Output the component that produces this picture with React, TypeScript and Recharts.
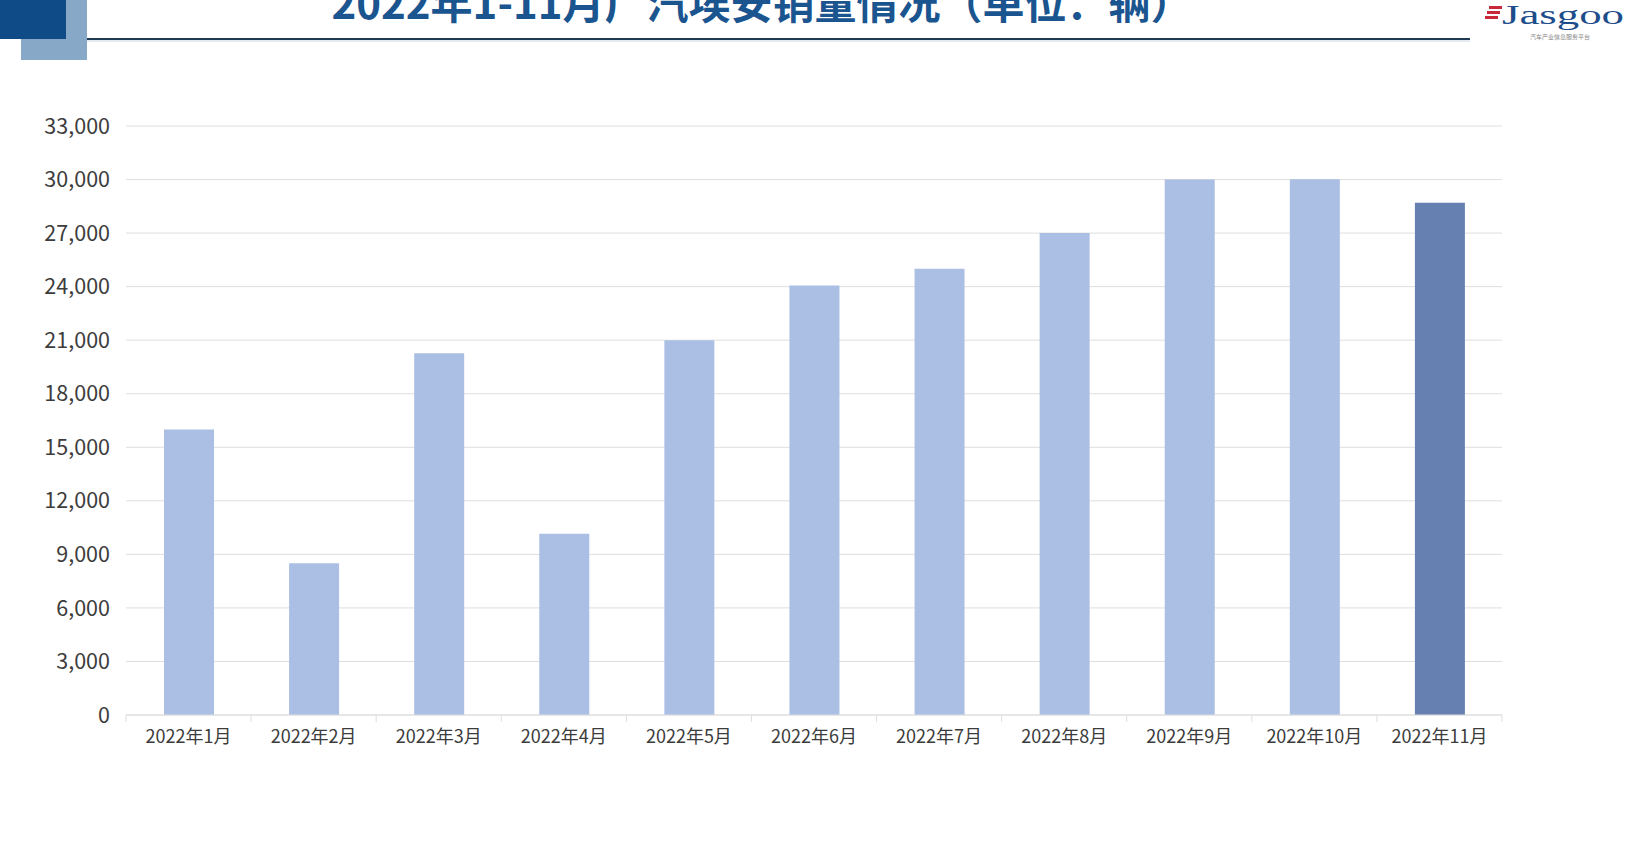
import { BarChart, Bar, XAxis, YAxis, CartesianGrid, Cell } from 'recharts';

// 2022年1-11月广汽埃安销量（辆）
const months = [
  '2022年1月', '2022年2月', '2022年3月', '2022年4月', '2022年5月', '2022年6月',
  '2022年7月', '2022年8月', '2022年9月', '2022年10月', '2022年11月',
];
const sales = [16000, 8500, 20270, 10150, 21000, 24070, 25000, 27000, 30000, 30020, 28700];
const yTicks = [0, 3000, 6000, 9000, 12000, 15000, 18000, 21000, 24000, 27000, 30000, 33000];
const highlightMonth = '2022年11月';

const FONT = '"Noto Sans CJK SC", "Noto Sans", sans-serif';
const LIGHT = '#aabfe3';
const DARK = '#6580b1';
const GRID = '#dedede';
const TEXT = '#3c3c3c';

const data = months.map((m, i) => ({ month: m, value: sales[i] }));

const MonthTick = (props: any) => {
  const { x, y, payload, index, width, visibleTicksCount } = props;
  const step = width / visibleTicksCount;
  const axisY = y - 15;
  return (
    <g>
      <line x1={x - step / 2} x2={x - step / 2} y1={axisY} y2={axisY + 7} stroke={GRID} />
      {index === visibleTicksCount - 1 && (
        <line x1={x + step / 2} x2={x + step / 2} y1={axisY} y2={axisY + 7} stroke={GRID} />
      )}
      <text x={x} y={y} dy="0.71em" textAnchor="middle" fill={TEXT} fontSize={18} fontFamily={FONT}>
        {payload.value}
      </text>
    </g>
  );
};

const Header = () => (
  <svg width={1640} height={846} style={{ position: 'absolute', left: 0, top: 0, pointerEvents: 'none' }}>
    <rect x={21} y={0} width={66} height={60} fill="#88a8c8" />
    <rect x={0} y={0} width={66} height={39} fill="#0f4c87" />
    <line x1={87} x2={1470} y1={39} y2={39} stroke="#1f3a52" strokeWidth={2} />
    <line x1={87} x2={1470} y1={41} y2={41} stroke="#c9d6e2" strokeWidth={1} />
    <text x={762} y={19} textAnchor="middle" fontSize={42} fontWeight="bold" fill="#1b5590" fontFamily={FONT}>
      2022年1-11月广汽埃安销量情况（单位：辆）
    </text>
    <rect x={1489} y={6} width={13} height={3} fill="#c8283a" />
    <rect x={1487} y={11} width={13} height={3} fill="#c8283a" />
    <rect x={1485} y={16} width={13} height={3} fill="#c8283a" />
    <text x={1502} y={24} fontSize={27} fill="#1d4d8a" fontFamily='"Liberation Serif", serif' textLength={122} lengthAdjust="spacingAndGlyphs">
      Jasgoo
    </text>
    <text x={1560} y={39} textAnchor="middle" fontSize={6} fill="#888" fontFamily={FONT}>
      汽车产业信息服务平台
    </text>
  </svg>
);

export default function App() {
  return (
    <div style={{ position: 'absolute', left: 0, top: 0, width: 1640, height: 846, background: '#fff', fontFamily: FONT }}>
      <BarChart
        width={1640}
        height={846}
        data={data}
        margin={{ top: 126, right: 138, left: 0, bottom: 0 }}
        barSize={50}
      >
        <CartesianGrid vertical={false} stroke={GRID} />
        <XAxis
          dataKey="month"
          height={131}
          interval={0}
          axisLine={{ stroke: GRID }}
          tickLine={false}
          tickSize={7}
          tickMargin={8}
          tick={<MonthTick />}
        />
        <YAxis
          width={126}
          domain={[0, 33000]}
          ticks={yTicks}
          axisLine={false}
          tickLine={false}
          tickSize={0}
          tickMargin={16}
          tickFormatter={(v: number) => v.toLocaleString('en-US')}
          tick={{ fill: TEXT, fontSize: 21.5, fontFamily: FONT }}
        />
        <Bar dataKey="value" isAnimationActive={false}>
          {data.map((d) => (
            <Cell key={d.month} fill={d.month === highlightMonth ? DARK : LIGHT} />
          ))}
        </Bar>
      </BarChart>
      <Header />
    </div>
  );
}
